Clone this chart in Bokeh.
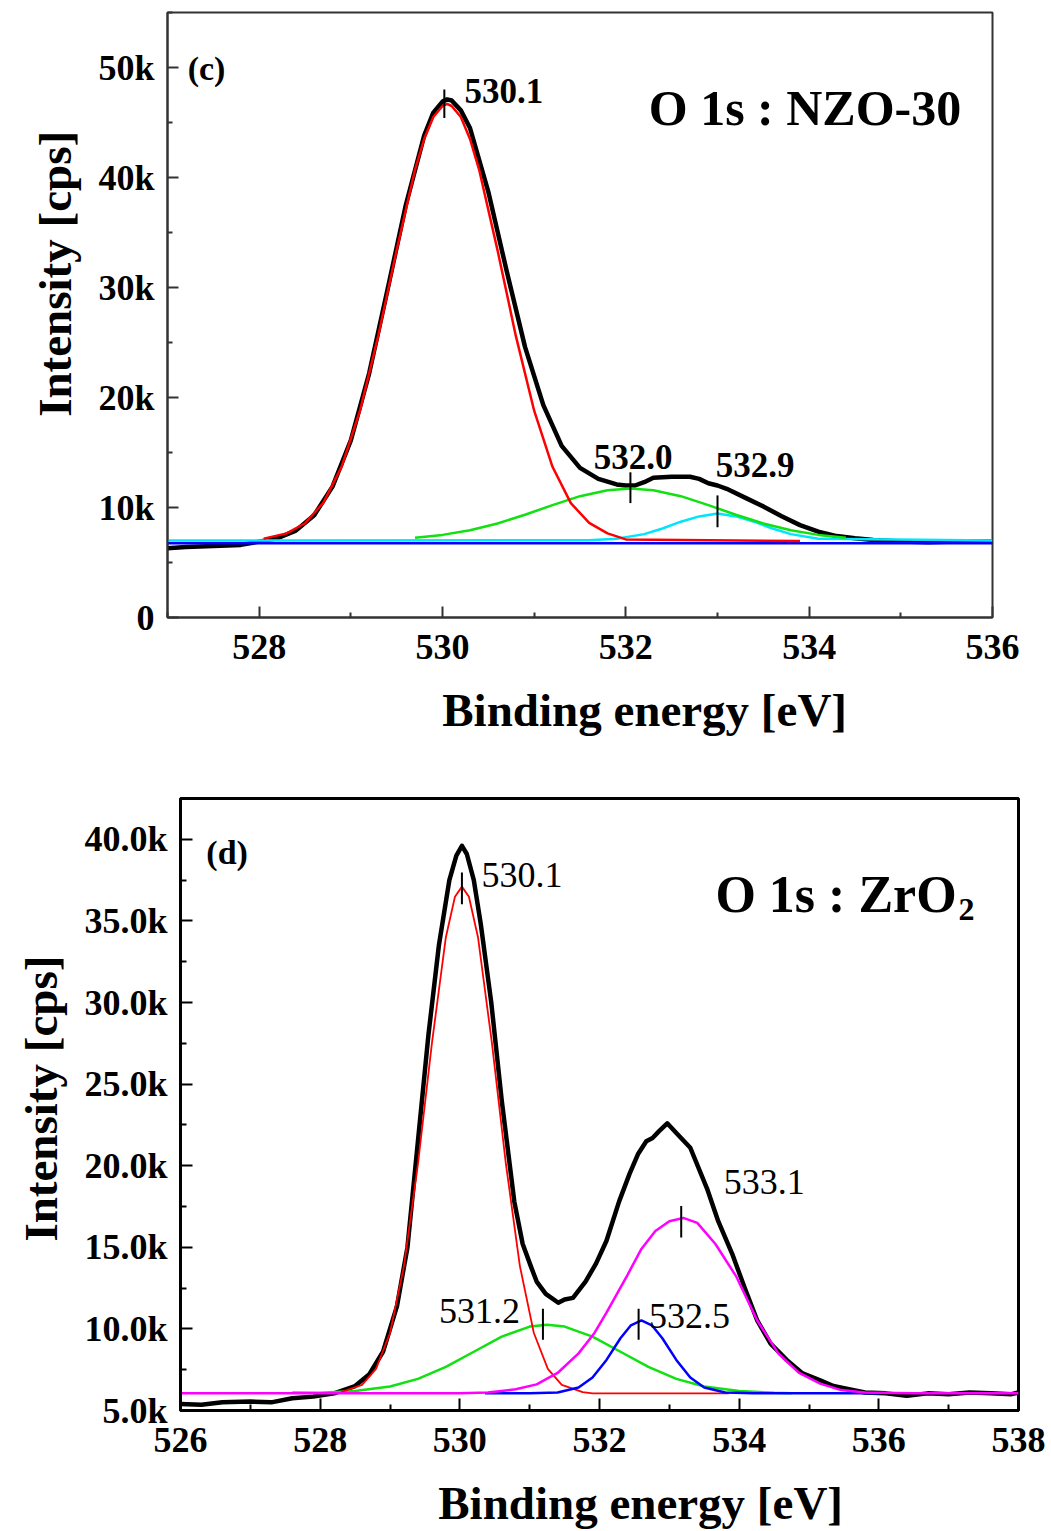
from bokeh.plotting import figure
from bokeh.models import Range1d, FixedTicker, Column, Row
from bokeh.core.properties import value
from bokeh.embed import file_html
from bokeh.resources import INLINE

FONT = "Liberation Serif"

# ---------------- panel (c): O 1s : NZO-30 ----------------
c_data_x = [527.0, 527.2, 527.5, 527.8, 528.0, 528.2, 528.4, 528.6, 528.8, 529.0, 529.2, 529.4,
            529.6, 529.8, 529.9, 530.0, 530.05, 530.1, 530.2, 530.3, 530.5, 530.7, 530.9, 531.1,
            531.3, 531.5, 531.7, 531.9, 532.0, 532.1, 532.2, 532.3, 532.5, 532.7, 532.8, 532.9,
            533.0, 533.1, 533.3, 533.5, 533.7, 533.9, 534.1, 534.3, 534.5, 534.7, 535.0, 535.3,
            535.6, 536.0]
c_data_y = [6300, 6400, 6500, 6600, 6900, 7200, 7900, 9300, 11900, 16100, 22200, 29800,
            37500, 43800, 45900, 46900, 47100, 47000, 46100, 44500, 38700, 31500, 24600, 19300,
            15600, 13600, 12600, 12100, 12000, 12000, 12300, 12700, 12800, 12800, 12600, 12200,
            12000, 11700, 10900, 10100, 9200, 8400, 7800, 7400, 7200, 7050, 6900, 6850,
            6900, 6900]

c_red_x = [528.05, 528.3, 528.5, 528.7, 528.9, 529.1, 529.3, 529.5, 529.7, 529.8, 529.9, 530.0,
           530.05, 530.1, 530.2, 530.3, 530.4, 530.6, 530.8, 531.0, 531.2, 531.4, 531.6, 531.8,
           532.0, 533.9]
c_red_y = [7170, 7650, 8570, 10430, 13710, 18800, 25640, 33400, 40700, 43500, 45500, 46500,
           46700, 46500, 45500, 43500, 40700, 33400, 25600, 18800, 13700, 10400, 8600, 7650,
           7100, 6950]

c_green_x = [529.7, 530.0, 530.3, 530.6, 530.9, 531.2, 531.5, 531.8, 532.05, 532.3, 532.6,
             532.9, 533.2, 533.5, 533.8, 534.1, 534.4]
c_green_y = [7250, 7510, 7930, 8550, 9340, 10220, 11030, 11570, 11730, 11570, 11030,
             10220, 9340, 8550, 7930, 7510, 7250]

c_cyan_x = [527.0, 531.6, 531.9, 532.2, 532.4, 532.6, 532.8, 533.0, 533.2, 533.4, 533.6,
            533.8, 534.1, 536.0]
c_cyan_y = [7000, 7020, 7160, 7580, 8090, 8710, 9190, 9450, 9190, 8710, 8090,
            7580, 7160, 7000]

c_blue_x = [527.0, 536.0]
c_blue_y = [6750, 6750]

c_peak_labels = ["530.1", "532.0", "532.9"]
c_peak_pos = [530.02, 532.05, 533.0]

c_xticks = [528, 530, 532, 534, 536]
c_xminor = [527, 529, 531, 533, 535]
c_yticks = [0, 10000, 20000, 30000, 40000, 50000]
c_yminor = [5000, 15000, 25000, 35000, 45000, 55000]
c_ytick_labels = ["0", "10k", "20k", "30k", "40k", "50k"]

# ---------------- panel (d): O 1s : ZrO2 ----------------
d_data_x = [526.0, 526.3, 526.6, 527.0, 527.3, 527.6, 527.9, 528.2, 528.5, 528.7, 528.9, 529.1,
            529.25, 529.4, 529.55, 529.7, 529.85, 529.95, 530.03, 530.1, 530.2, 530.3, 530.45,
            530.6, 530.78, 530.9, 531.02, 531.1, 531.23, 531.41, 531.5, 531.62, 531.8, 531.95,
            532.1, 532.28, 532.43, 532.55, 532.67, 532.76, 532.85, 532.97, 533.1, 533.3, 533.54,
            533.7, 533.9, 534.08, 534.26, 534.45, 534.68, 534.9, 535.16, 535.35, 535.52, 535.8,
            536.1, 536.4, 536.7, 537.0, 537.3, 537.6, 537.9, 538.0]
d_data_y = [5400, 5350, 5500, 5550, 5500, 5750, 5850, 6050, 6500, 7200, 8600, 11400,
            15000, 21500, 28000, 33500, 37500, 39000, 39600, 39100, 37500, 34800, 30000,
            24000, 17800, 15200, 13800, 12900, 12150, 11600, 11800, 11900, 12900, 14000,
            15400, 17800, 19500, 20700, 21500, 21700, 22100, 22600, 22000, 21100, 18600,
            16600, 14600, 12500, 10500, 9100, 8100, 7300, 6850, 6500, 6350, 6100,
            6050, 5900, 6050, 6000, 6100, 6050, 6000, 6100]

d_red_x = [528.3, 528.6, 528.8, 529.0, 529.2, 529.4, 529.6, 529.8, 529.93, 530.03, 530.13,
           530.26, 530.46, 530.66, 530.86, 531.06, 531.26, 531.46, 531.76, 531.9, 533.85]
d_red_y = [6130, 6570, 7550, 9750, 13850, 20090, 27500, 34000, 36480, 37100, 36480,
           34000, 27500, 20090, 13850, 9750, 7550, 6570, 6130, 6050, 6050]

d_green_x = [527.6, 528.0, 528.5, 529.0, 529.4, 529.8, 530.2, 530.6, 531.0, 531.25, 531.5,
             531.9, 532.3, 532.7, 533.1, 533.5, 534.0, 534.5, 534.75]
d_green_y = [6100, 6090, 6190, 6470, 6940, 7670, 8600, 9530, 10140, 10260, 10140,
             9530, 8600, 7670, 6940, 6470, 6190, 6090, 6060]

d_blue_x = [530.36, 531.0, 531.4, 531.7, 531.9, 532.1, 532.3, 532.45, 532.6, 532.75, 532.9,
            533.1, 533.3, 533.5, 533.8, 534.2, 536.0]
d_blue_y = [6050, 6050, 6100, 6410, 7020, 8100, 9430, 10220, 10520, 10220, 9430,
            8100, 7020, 6410, 6100, 6050, 6050]

d_magenta_x = [526.0, 530.0, 530.4, 530.8, 531.1, 531.4, 531.7, 531.92, 532.1, 532.4, 532.6,
               532.8, 533.0, 533.2, 533.4, 533.66, 533.96, 534.26, 534.56, 534.86, 535.16,
               535.46, 535.8, 536.5, 538.0]
d_magenta_y = [6050, 6050, 6100, 6300, 6600, 7300, 8500, 9700, 11000, 13300, 14900,
               16000, 16600, 16800, 16500, 15200, 13200, 10500, 8500, 7300, 6650,
               6250, 6100, 6050, 6050]

d_peak_labels = ["530.1", "533.1", "531.2", "532.5"]
d_peak_pos = [530.03, 533.17, 531.19, 532.56]

d_xticks = [526, 528, 530, 532, 534, 536, 538]
d_xminor = [527, 529, 531, 533, 535, 537]
d_yticks = [5000, 10000, 15000, 20000, 25000, 30000, 35000, 40000]
d_yminor = [7500, 12500, 17500, 22500, 27500, 32500, 37500, 42500]
d_ytick_labels = ["5.0k", "10.0k", "15.0k", "20.0k", "25.0k", "30.0k", "35.0k", "40.0k"]

NB = "\u00a0"


def style(p, xt, xm, yt, ym, ylabels, frame_col, frame_w, tick_len, xpad, ypad):
    p.grid.visible = False
    p.outline_line_color = frame_col
    p.outline_line_width = frame_w
    p.background_fill_color = "white"
    p.border_fill_color = "white"
    p.xaxis.ticker = FixedTicker(ticks=xt, minor_ticks=xm)
    p.yaxis.ticker = FixedTicker(ticks=yt, minor_ticks=ym)
    p.yaxis.major_label_overrides = {t: l for t, l in zip(yt, ylabels)}
    p.xaxis.major_label_overrides = {t: str(t) for t in xt}
    for ax in (p.xaxis, p.yaxis):
        ax.axis_line_color = frame_col
        ax.axis_line_width = frame_w
        ax.major_tick_line_color = frame_col
        ax.minor_tick_line_color = frame_col
        ax.major_tick_line_width = 2
        ax.minor_tick_line_width = 2
        ax.major_tick_in = tick_len
        ax.major_tick_out = 0
        ax.minor_tick_in = tick_len // 2
        ax.minor_tick_out = 0
        ax.major_label_text_font = FONT
        ax.major_label_text_font_style = "bold"
        ax.major_label_text_font_size = "36px"
        ax.major_label_text_color = "black"
        ax.axis_label_text_font = FONT
        ax.axis_label_text_font_style = "bold"
        ax.axis_label_text_font_size = "47px"
        ax.axis_label_text_color = "black"
    p.xaxis.axis_label = NB * xpad + "Binding energy [eV]"
    p.yaxis.axis_label = NB * ypad + "Intensity [cps]"
    p.xaxis.major_label_standoff = 17
    p.yaxis.major_label_standoff = 13
    p.xaxis.axis_label_standoff = 22
    p.yaxis.axis_label_standoff = 14


# ---- figure (c)
p1 = figure(width=1051, height=740, output_backend="svg", toolbar_location=None,
            x_range=Range1d(527.0, 536.0), y_range=Range1d(0, 55000),
            min_border_left=167, min_border_right=59, min_border_top=12, min_border_bottom=123)
style(p1, c_xticks, c_xminor, c_yticks, c_yminor, c_ytick_labels, "#333333", 2, 11, 11, 7)

p1.line(c_data_x, c_data_y, line_color="black", line_width=4.5, line_join="round")
p1.line(c_blue_x, c_blue_y, line_color="#0000ff", line_width=2.5)
p1.line(c_cyan_x, c_cyan_y, line_color="#00e5ff", line_width=2.5)
p1.line(c_green_x, c_green_y, line_color="#11e011", line_width=2.5)
p1.line(c_red_x, c_red_y, line_color="#ff0000", line_width=2.5)

p1.segment(x0=c_peak_pos, y0=[45400, 10400, 8200], x1=c_peak_pos, y1=[48000, 13200, 11100],
           line_color="black", line_width=2)
p1.text(x=[530.24, 531.65, 532.98], y=[47870, 14600, 13850], text=c_peak_labels,
        text_font=value(FONT), text_font_style="bold", text_font_size="35px",
        text_baseline="alphabetic", text_align="left", text_color="black")
p1.text(x=[527.22], y=[49900], text=["(c)"], text_font=value(FONT), text_font_style="bold",
        text_font_size="34px", text_baseline="alphabetic", text_align="left", text_color="black")
p1.text(x=[532.25], y=[46360], text=["O 1s : NZO-30"], text_font=value(FONT),
        text_font_style="bold", text_font_size="50px", text_baseline="alphabetic",
        text_align="left", text_color="black")

# ---- figure (d)
p2 = figure(width=1051, height=791, output_backend="svg", toolbar_location=None,
            x_range=Range1d(526.0, 538.0), y_range=Range1d(5000, 42500),
            min_border_left=180, min_border_right=33, min_border_top=58, min_border_bottom=120)
style(p2, d_xticks, d_xminor, d_yticks, d_yminor, d_ytick_labels, "black", 3, 12, 7, 1)

p2.line(d_data_x, d_data_y, line_color="black", line_width=4.5, line_join="round")
p2.line(d_green_x, d_green_y, line_color="#11e011", line_width=2.5)
p2.line(d_red_x, d_red_y, line_color="#ff0000", line_width=1.8)
p2.line(d_blue_x, d_blue_y, line_color="#0000ff", line_width=2.5)
p2.line(d_magenta_x, d_magenta_y, line_color="#ff00ff", line_width=2.5)

p2.segment(x0=d_peak_pos, y0=[36020, 15600, 9340, 9340], x1=d_peak_pos,
           y1=[37960, 17530, 11230, 11230], line_color="black", line_width=2)
p2.text(x=[530.31, 533.78, 529.70, 532.71], y=[37840, 19000, 11070, 10760], text=d_peak_labels,
        text_font=value(FONT), text_font_style="normal", text_font_size="36px",
        text_baseline="alphabetic", text_align="left", text_color="black")
p2.text(x=[526.37], y=[39180], text=["(d)"], text_font=value(FONT), text_font_style="bold",
        text_font_size="34px", text_baseline="alphabetic", text_align="left", text_color="black")
p2.text(x=[533.66], y=[36600], text=["O 1s : ZrO"], text_font=value(FONT),
        text_font_style="bold", text_font_size="52px", text_baseline="alphabetic",
        text_align="left", text_color="black")
p2.text(x=[537.14], y=[35700], text=["2"], text_font=value(FONT),
        text_font_style="bold", text_font_size="32px", text_baseline="alphabetic",
        text_align="left", text_color="black")

layout = Column(children=[Row(children=[p1]), Row(children=[p2])], spacing=0)
open("out.html", "w").write(file_html(layout, INLINE))
